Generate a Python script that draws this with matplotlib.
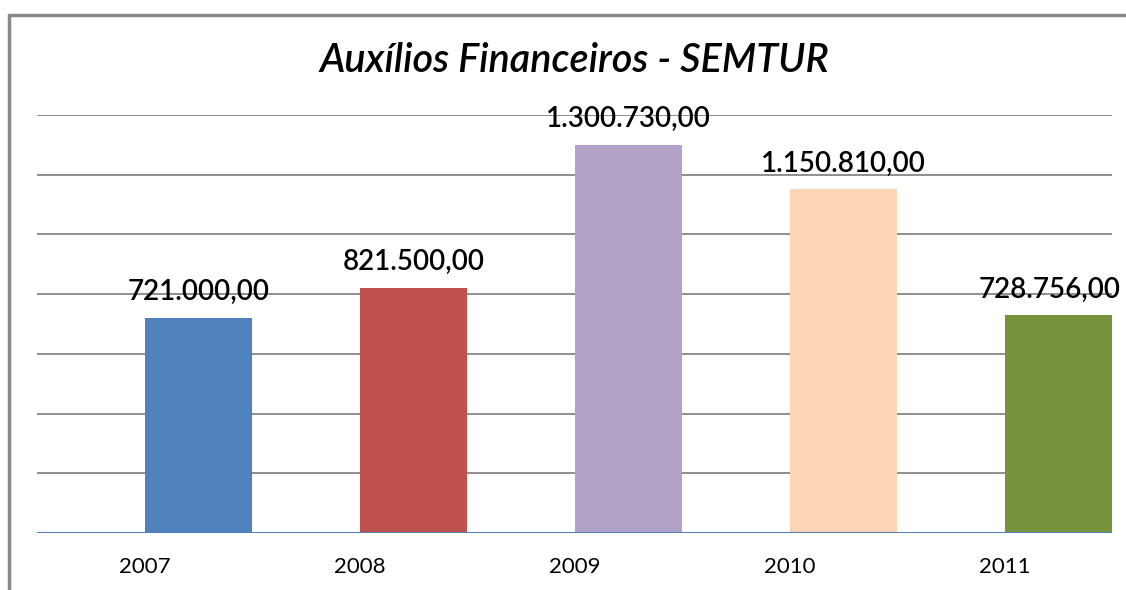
import numpy as np
import matplotlib.pyplot as plt
from matplotlib.lines import Line2D

# dados do grafico
anos = ['2007', '2008', '2009', '2010', '2011']
valores = [721000.00, 821500.00, 1300730.00, 1150810.00, 728756.00]
cores = ['#4F81BD', '#C0504D', '#B2A2C7', '#FBD5B5', '#77933C']
titulo = 'Auxílios Financeiros - SEMTUR'


def fmt_br(v):
    """Formato brasileiro: 1.300.730,00"""
    s = f"{v:,.2f}"
    return s.replace(',', 'X').replace('.', ',').replace('X', '.')


plt.rcParams['font.family'] = ['Lato', 'DejaVu Sans']

fig = plt.figure(figsize=(11.26, 5.90), dpi=100)
W, H = 1126, 590
ax = fig.add_axes([37 / W, 1 - 533 / H, (1112 - 37) / W, (533 - 115) / H])

x = np.arange(len(anos))
ax.bar(x, valores, width=0.5, align='edge', color=cores, zorder=2, clip_on=True)

for xi, v in zip(x, valores):
    # o ultimo rotulo fica colado na borda direita, puxa um pouco para dentro
    dx = -6 if xi == x[-1] else 0
    ax.annotate(fmt_br(v), (xi + 0.25, v), xytext=(dx, 9), textcoords='offset points',
                ha='center', va='bottom', fontsize=20, color='#000000',
                fontweight='semibold', annotation_clip=False)

ax.set_xlim(-0.5, 4.5)
ax.set_ylim(0, 1400000)
ax.set_yticks(np.arange(0, 1400001, 200000))
ax.yaxis.grid(True, color='#868686', linewidth=1.3, zorder=0)
ax.set_yticklabels([])
ax.tick_params(axis='y', length=0)
ax.set_xticks(x)
ax.set_xticklabels(anos, fontsize=16)
ax.tick_params(axis='x', length=0, pad=17)
for s in ax.spines.values():
    s.set_visible(False)
ax.axhline(0, color='#4F81BD', linewidth=2.2, zorder=3)

fig.text(574 / W, 1 - 61 / H, titulo, ha='center', va='center', fontsize=28.5,
         style='italic', fontweight='semibold')

# moldura cinza do grafico
fig.add_artist(Line2D([9 / W, 9 / W], [0, 1 - 14 / H], color='#888888', linewidth=2.5,
                      solid_capstyle='butt'))
fig.add_artist(Line2D([8 / W, 1], [1 - 15 / H, 1 - 15 / H], color='#888888', linewidth=2.5,
                      solid_capstyle='butt'))

fig.savefig('out.png', dpi=100)
